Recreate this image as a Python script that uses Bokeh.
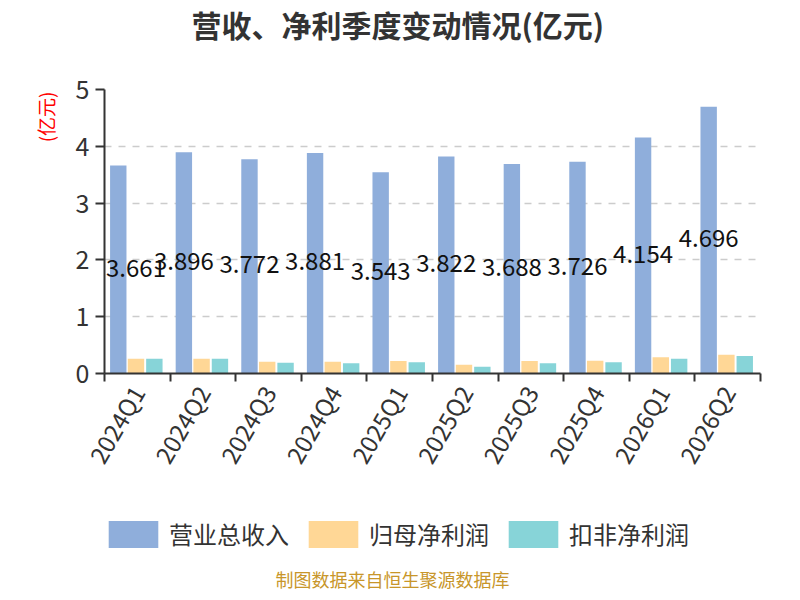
import math
from bokeh.plotting import figure
from bokeh.layouts import column
from bokeh.models import (ColumnDataSource, Range1d, FixedTicker, Title, Legend, LegendItem, Label)
from bokeh.core.properties import value
from bokeh.embed import file_html
from bokeh.resources import INLINE

quarters = ["2024Q1", "2024Q2", "2024Q3", "2024Q4", "2025Q1",
            "2025Q2", "2025Q3", "2025Q4", "2026Q1", "2026Q2"]
revenue = [3.661, 3.896, 3.772, 3.881, 3.543, 3.822, 3.688, 3.726, 4.154, 4.696]
net_profit = [0.26, 0.26, 0.205, 0.205, 0.22, 0.155, 0.22, 0.225, 0.285, 0.33]
net_profit_deducted = [0.26, 0.26, 0.19, 0.18, 0.20, 0.12, 0.18, 0.20, 0.26, 0.31]
series_names = ["营业总收入", "归母净利润", "扣非净利润"]
colors = ["#8FAEDB", "#FFD796", "#87D4D8"]
y_ticks = [0, 1, 2, 3, 4, 5]

FONT = "Noto Sans CJK SC"
n = len(quarters)
centers = [i + 0.5 for i in range(n)]
bounds = [float(i) for i in range(n + 1)]
offsets = [-0.29, -0.02, 0.26]
bar_w = 0.25
series = [revenue, net_profit, net_profit_deducted]

p = figure(frame_width=656, frame_height=284, output_backend="svg", toolbar_location=None,
           x_range=Range1d(0, n), y_range=Range1d(0, 5), title=None,
           min_border_left=104, min_border_right=24, min_border_top=82,
           min_border_bottom=134)
p.outline_line_color = None
p.background_fill_color = "white"
p.border_fill_color = "white"

for vals, off, col in zip(series, offsets, colors):
    src = ColumnDataSource(dict(x=[c + off for c in centers], top=vals))
    p.vbar(x="x", top="top", width=bar_w, source=src, fill_color=col, line_color=None)

# value labels on revenue bars (kept inside the plot frame)
lab_src = ColumnDataSource(dict(x=[max(c + offsets[0], 0.48) for c in centers],
                                y=[v / 2 for v in revenue],
                                t=[f"{v:.3f}" for v in revenue]))
p.text(x="x", y="y", text="t", source=lab_src, text_align="center",
       text_baseline="middle", text_font=value(FONT), text_font_size="24px",
       text_color="#111111", y_offset=-2)

# x axis
xa = p.xaxis[0]
xa.ticker = FixedTicker(ticks=centers, minor_ticks=bounds)
xa.major_label_overrides = {c: q for c, q in zip(centers, quarters)}
xa.major_label_orientation = math.radians(60)
xa.major_tick_line_color = None
xa.major_tick_out = 0
xa.major_tick_in = 0
xa.minor_tick_out = 8
xa.minor_tick_in = 0
xa.minor_tick_line_color = "#333333"
xa.minor_tick_line_width = 2
xa.axis_line_color = "#333333"
xa.axis_line_width = 2
xa.major_label_standoff = 6
xa.major_label_text_font = FONT
xa.major_label_text_font_size = "24px"
xa.major_label_text_color = "#333333"

# y axis
ya = p.yaxis[0]
ya.ticker = FixedTicker(ticks=y_ticks)
ya.major_tick_out = 9
ya.major_tick_in = 0
ya.minor_tick_line_color = None
ya.major_tick_line_color = "#333333"
ya.major_tick_line_width = 2
ya.axis_line_color = "#333333"
ya.axis_line_width = 2
ya.major_label_standoff = 6
ya.major_label_text_font = FONT
ya.major_label_text_font_size = "25px"
ya.major_label_text_color = "#333333"

p.xgrid.grid_line_color = None
p.ygrid.grid_line_color = "#CCCCCC"
p.ygrid.grid_line_dash = "7 7"
p.ygrid.grid_line_width = 1.5

# --- above: spacer then main title
p.add_layout(Title(text=" ", text_font_size="1px", standoff=40), "above")
p.add_layout(Title(text="营收、净利季度变动情况(亿元)", align="left", offset=87,
                   vertical_align="middle", standoff=0,
                   text_font=FONT, text_font_size="30px", text_font_style="bold",
                   text_color="#333333"), "above")

# --- left: unit label
p.add_layout(Title(text="(亿元)", align="right", offset=2, standoff=28,
                   text_font=FONT, text_font_size="19px", text_font_style="normal",
                   text_color="#FF0000"), "left")

# --- legend + footer strip
p2 = figure(frame_width=656, frame_height=84, output_backend="svg", toolbar_location=None,
            x_range=Range1d(0, n), y_range=Range1d(0, 5), title=None,
            x_axis_type=None, y_axis_type=None,
            min_border_left=104, min_border_right=24, min_border_top=0, min_border_bottom=0)
p2.outline_line_color = None
p2.xgrid.grid_line_color = None
p2.ygrid.grid_line_color = None
p2.background_fill_color = "white"
p2.border_fill_color = "white"

swatches = []
for vals, off, col in zip(series, offsets, colors):
    r = p2.vbar(x=[centers[0] + off], top=[vals[0]], width=bar_w,
                fill_color=col, line_color=None, visible=False)
    swatches.append(r)
legend = Legend(items=[LegendItem(label=nm, renderers=[r]) for nm, r in zip(series_names, swatches)],
                orientation="horizontal", location=(-2, 40),
                glyph_width=62, glyph_height=34, label_standoff=5, spacing=13,
                padding=0, margin=0, border_line_color=None, background_fill_alpha=0,
                inactive_fill_alpha=0,
                label_text_font=FONT, label_text_font_size="24px",
                label_text_color="#333333", label_height=34)
p2.add_layout(legend, "center")
p2.add_layout(Label(x=288, y=13, x_units="screen", y_units="screen",
                    text="制图数据来自恒生聚源数据库", text_align="center",
                    text_baseline="middle", text_font=FONT, text_font_size="18px",
                    text_color="#C8962A"))

layout = column(p, p2, spacing=0)
open("out.html", "w").write(file_html(layout, INLINE))
